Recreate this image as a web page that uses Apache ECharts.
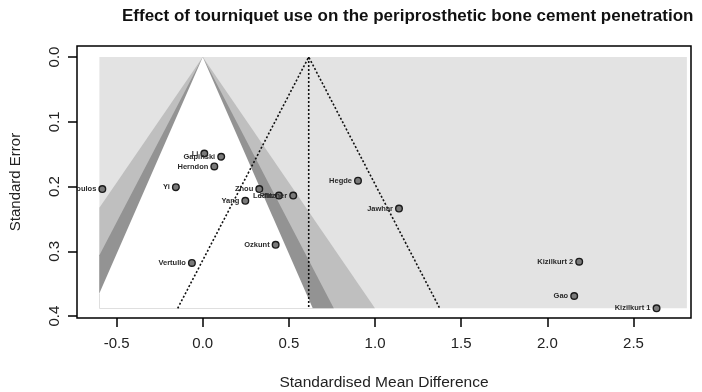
<!DOCTYPE html>
<html>
<head>
<meta charset="utf-8">
<script src="https://cdn.jsdelivr.net/npm/echarts@6/dist/echarts.min.js"></script>
<style>
	html, body { margin: 0; padding: 0; background: #fff; }
	#funnel_chart { width: 702px; height: 392px; }
</style>
</head>
<body>
<div id="funnel_chart"></div>
<script>
// study labels, effect sizes (SMD) and standard errors
var studies = ["Touzopoulos", "Li", "Gapinski", "Herndon", "Yi", "Zhou", "Yang", "Ledin", "Pfitzner",
	"Ozkunt", "Vertullo", "Hegde", "Jawhar", "Kizilkurt 2", "Gao", "Kizilkurt 1"];
var smd = [-0.583, 0.009, 0.107, 0.067, -0.156, 0.328, 0.247, 0.442, 0.525,
	0.423, -0.063, 0.901, 1.139, 2.185, 2.156, 2.634];
var se = [0.204, 0.149, 0.154, 0.169, 0.201, 0.204, 0.222, 0.214, 0.214,
	0.290, 0.318, 0.191, 0.234, 0.316, 0.369, 0.388];

var xTicks = [-0.5, 0.0, 0.5, 1.0, 1.5, 2.0, 2.5];
var yTicks = [0.0, 0.1, 0.2, 0.3, 0.4];

var pooled = 0.615;            // pooled estimate (dotted funnel)
var zLevels = [2.576, 1.96, 1.645];   // 99%, 95%, 90% contours around 0
var shades = ["#bfbfbf", "#939393", "#ffffff"];
var bgRange = [-0.6, 2.81];    // light grey background extent
var seMax = 0.388;

var fontName = "Liberation Sans";

function polygonItem(pts, color) {
	return function(params, api) {
		var p = [];
		for (var i = 0; i < pts.length; i++) p.push(api.coord(pts[i]));
		return { type: "polygon", shape: { points: p }, style: { fill: color } };
	};
}

// contour polygons, clipped to the grey background on the left
function contourPts(z) {
	var pts = [[0, 0]];
	var leftBottom = -z * seMax;
	if (leftBottom < bgRange[0]) {
		pts.push([bgRange[0], -bgRange[0] / z]);
		pts.push([bgRange[0], seMax]);
	} else {
		pts.push([leftBottom, seMax]);
	}
	pts.push([z * seMax, seMax]);
	return pts;
}

var series = [];
series.push({
	type: "custom", silent: true, z: 1,
	data: [[0, 0]],
	renderItem: polygonItem([[bgRange[0], 0], [bgRange[1], 0], [bgRange[1], seMax], [bgRange[0], seMax]], "#e3e3e3")
});
for (var k = 0; k < zLevels.length; k++) {
	series.push({
		type: "custom", silent: true, z: 2 + k,
		data: [[0, 0]],
		renderItem: polygonItem(contourPts(zLevels[k]), shades[k])
	});
}
// pooled-estimate funnel (dotted)
var dotStyle = { color: "#111", width: 1.6, type: [2, 2] };
series.push({
	type: "line", z: 6, symbol: "none", silent: true,
	lineStyle: dotStyle,
	data: [[pooled - 1.96 * seMax, seMax], [pooled, 0], [pooled + 1.96 * seMax, seMax]]
});
series.push({
	type: "line", z: 6, symbol: "none", silent: true,
	lineStyle: dotStyle,
	data: [[pooled, 0], [pooled, seMax]]
});
// studies: point + label to the left, clipped to the plot box
var pts = [];
for (var i = 0; i < studies.length; i++) pts.push([smd[i], se[i], studies[i]]);
series.push({
	type: "custom", z: 8, clip: true,
	data: pts,
	renderItem: function(params, api) {
		var c = api.coord([api.value(0), api.value(1)]);
		return {
			type: "group",
			children: [{
				type: "circle",
				shape: { cx: c[0], cy: c[1], r: 3.3 },
				style: { fill: "#7a7a7a", stroke: "#1a1a1a", lineWidth: 1.4 }
			}, {
				type: "text",
				style: {
					x: c[0] - 6, y: c[1],
					text: pts[params.dataIndex][2],
					align: "right", verticalAlign: "middle",
					font: "bold 7.5px " + fontName,
					fill: "#2a2a2a"
				}
			}]
		};
	}
});

var chart = echarts.init(document.getElementById("funnel_chart"));
chart.setOption({
	animation: false,
	backgroundColor: "#fff",
	title: {
		text: "Effect of tourniquet use on the periprosthetic bone cement penetration",
		left: 117, top: 3,
		textStyle: { fontFamily: fontName, fontSize: 17, fontWeight: "bold", color: "#111" }
	},
	grid: {
		left: 77, right: 11, top: 46, bottom: 74, outerBoundsMode: "none",
		show: true, borderColor: "#000", borderWidth: 1.5, backgroundColor: "transparent"
	},
	xAxis: {
		type: "value", min: -0.73, max: 2.834,
		name: "Standardised Mean Difference", nameLocation: "middle", nameGap: 57,
		nameTextStyle: { fontFamily: fontName, fontSize: 15.5, color: "#222" },
		axisLine: { show: false, onZero: false },
		axisTick: { show: true, length: 9, customValues: xTicks, lineStyle: { color: "#000", width: 1.5 } },
		axisLabel: {
			customValues: xTicks, margin: 18,
			fontFamily: fontName, fontSize: 15, color: "#222",
			formatter: function(v) { return v.toFixed(1); }
		},
		splitLine: { show: false }
	},
	yAxis: {
		type: "value", inverse: true, min: -0.017, max: 0.403,
		name: "Standard Error", nameLocation: "middle", nameGap: 54, nameRotate: 90,
		nameTextStyle: { fontFamily: fontName, fontSize: 15, color: "#222" },
		axisLine: { show: false, onZero: false },
		axisTick: { show: true, length: 9, customValues: yTicks, lineStyle: { color: "#000", width: 1.5 } },
		axisLabel: {
			customValues: yTicks, margin: 15, rotate: 90,
			fontFamily: fontName, fontSize: 15, color: "#222",
			formatter: function(v) { return v.toFixed(1); }
		},
		splitLine: { show: false }
	},
	series: series
});
window.onresize = function() { chart.resize(); };
</script>
</body>
</html>
